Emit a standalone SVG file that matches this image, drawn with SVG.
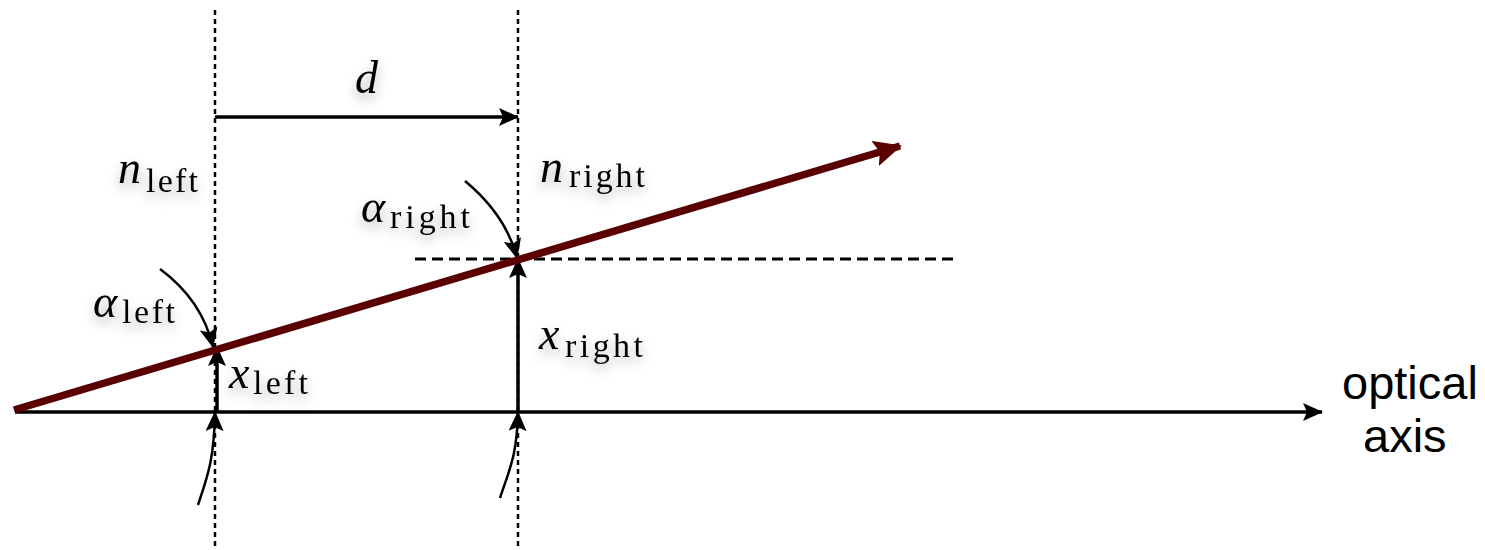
<svg xmlns="http://www.w3.org/2000/svg" width="1485" height="550" viewBox="0 0 1485 550">
<defs>
<style>
.guide{stroke:#000;stroke-width:2.5;stroke-dasharray:5 4;fill:none}
.hdash{stroke:#000;stroke-width:3;stroke-dasharray:11 6;fill:none}
.line{stroke:#000;stroke-width:3.5;fill:none}
.thin{stroke:#000;stroke-width:2.5;fill:none}
.ray{stroke:#5a0000;stroke-width:7.5;fill:none}
.var{font-family:"Liberation Serif",serif;font-style:italic;font-size:46px;fill:#000}
.sub{font-family:"Liberation Serif",serif;font-size:34px;fill:#000}
.sans{font-family:"Liberation Sans",Arial,sans-serif;font-size:47px;fill:#000}
.lbl{filter:url(#shadow)}
</style>
<filter id="shadow" x="-30%" y="-30%" width="160%" height="180%">
<feDropShadow dx="0" dy="6" stdDeviation="6" flood-color="#000" flood-opacity="0.3"/>
</filter>
<marker id="ah" markerUnits="userSpaceOnUse" markerWidth="20" markerHeight="18" refX="19" refY="9" orient="auto">
<path d="M0,0 L20,9 L0,18 L4,9 z" fill="#000"/>
</marker>
<marker id="rayhead" markerUnits="userSpaceOnUse" markerWidth="28" markerHeight="26" refX="26" refY="13" orient="auto">
<path d="M0,0 L28,13 L0,26 L5,13 z" fill="#5a0000"/>
</marker>
</defs>
<g id="guides">
<line class="guide" x1="215" y1="10" x2="215" y2="550"/>
<line class="guide" x1="518" y1="10" x2="518" y2="550"/>
<line class="hdash" x1="415" y1="259" x2="955" y2="259"/>
</g>
<g id="connectors">
<line class="line" x1="15" y1="412" x2="1322" y2="412" marker-end="url(#ah)"/>
<line class="line" x1="215" y1="117" x2="518" y2="117" marker-end="url(#ah)"/>
<line class="line" x1="217" y1="412" x2="217" y2="347" marker-end="url(#ah)"/>
<line class="line" x1="518" y1="412" x2="518" y2="259" marker-end="url(#ah)"/>
<path class="thin" d="M160,269 Q202,300 213,347" marker-end="url(#ah)"/>
<path class="thin" d="M465,181 Q506,215 517,258" marker-end="url(#ah)"/>
<path class="thin" d="M198,505 C208,475 214,460 215,412" marker-end="url(#ah)"/>
<path class="thin" d="M500,498 C510,468 517,455 518,412" marker-end="url(#ah)"/>
<line class="ray" x1="14" y1="410" x2="900" y2="146" marker-end="url(#rayhead)"/>
</g>
<g id="label-d" class="lbl"><text class="var" x="355" y="93">d</text></g>
<g id="label-nleft" class="lbl"><text class="var" x="118" y="183">n</text><text class="sub" x="146" y="192" textLength="52">left</text></g>
<g id="label-nright" class="lbl"><text class="var" x="540" y="182">n</text><text class="sub" x="569" y="187" textLength="76">right</text></g>
<g id="label-aright" class="lbl"><text class="var" x="361" y="222">α</text><text class="sub" x="390" y="228" textLength="80">right</text></g>
<g id="label-aleft" class="lbl"><text class="var" x="93" y="317">α</text><text class="sub" x="122" y="323" textLength="53">left</text></g>
<g id="label-xleft" class="lbl"><text class="var" x="229" y="388">x</text><text class="sub" x="253" y="394" textLength="55">left</text></g>
<g id="label-xright" class="lbl"><text class="var" x="539" y="349">x</text><text class="sub" x="565" y="357" textLength="78">right</text></g>
<g id="label-axis"><text class="sans" x="1342" y="399">optical</text><text class="sans" x="1363" y="452">axis</text></g>
</svg>
